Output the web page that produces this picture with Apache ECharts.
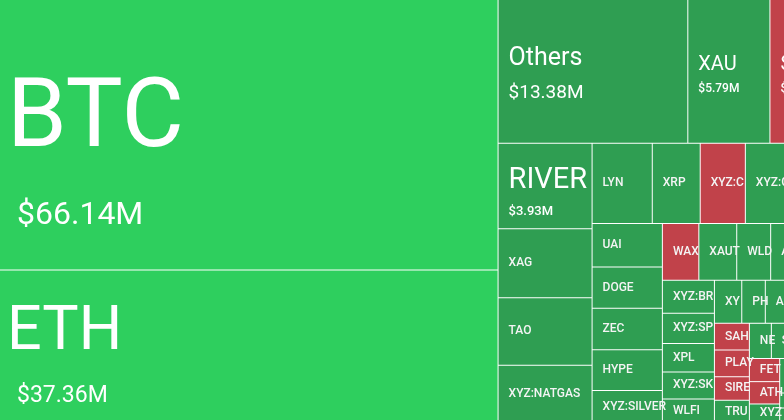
<!DOCTYPE html>
<html>
<head>
<meta charset="utf-8">
<style>
html,body{margin:0;padding:0;background:#fff;overflow:hidden}
#main{width:784px;height:420px}
</style>
<script src="https://cdn.jsdelivr.net/npm/echarts@6/dist/echarts.min.js"></script>
</head>
<body>
<div id="main"></div>
<script>
// coins, biggest first, values in $M (labelled ones read, the rest from tile size)
var names = ['BTC','ETH','Others','XAU','SOL','RIVER','XAG','TAO','XYZ:NATGAS',
    'LYN','XRP','XYZ:CL','XYZ:GOLD','SUI','UAI','DOGE','ZEC','HYPE','XYZ:SILVER',
    'WAX','XAUT','WLD','AAVE','ADA','XYZ:BRENT','XYZ:SP500','XPL','XYZ:SKHX','WLFI',
    'XYZ:TSLA','PHA','ASTER','BNB','LINK','SAHARA','PLAY','SIREN','TRUMP',
    'NEAR','SKY','PAXG','ENA','FET','ATH','XYZ:NVDA','LTC','AVAX','BCH','ONDO','PEPE','TON'];
var values = [66.14,37.36,13.38,5.79,4.20,3.93,3.16,3.11,2.65,
    2.36,1.88,1.77,1.73,1.57,1.49,1.42,1.42,1.40,1.12,
    1.01,1.05,0.94,0.83,0.80,0.84,0.77,0.72,0.69,0.61,
    0.575,0.495,0.47,0.44,0.44,0.458,0.455,0.40,0.39,
    0.378,0.37,0.32,0.31,0.343,0.331,0.282,0.28,0.28,0.28,0.25,0.25,0.23];
var bright = ['BTC','ETH'];
var falling = ['SOL','XYZ:CL','WAX','SAHARA','PLAY','SIREN','FET','ATH'];

// name size, value size, value indent, left pad, top pad, name line, value line, value weight
var labelStyles = {
    BTC:[96,32,10,8,59,126,62,400],
    ETH:[61,23,10,8,10,106,20,400],
    Others:[25,19,0,10,43,32.5,36,400],
    XAU:[20,12,0,10,52,26,22.8,500],
    SOL:[20,12,0,10,52,26,22.8,500],
    RIVER:[29,13,0,10,18,37.7,24.7,500]
};

function tileColor(name){
    if(falling.indexOf(name) >= 0) return '#c1424a';
    if(bright.indexOf(name) >= 0) return '#2ecf5e';
    return '#2f9e52';
}

var data = names.map(function(n,i){
    var node = {name:n, value:values[i], itemStyle:{color:tileColor(n)}};
    var s = labelStyles[n];
    if(s){
        node.label = {
            formatter:'{a|'+n+'}\n{b|$'+values[i].toFixed(2)+'M}',
            padding:[s[4],0,0,s[3]],
            rich:{
                a:{fontSize:s[0],lineHeight:s[5],color:'#fff',fontFamily:'Roboto',fontWeight:400},
                b:{fontSize:s[1],lineHeight:s[6],color:'#fff',fontFamily:'Roboto',fontWeight:s[7],padding:[0,0,0,s[2]]}
            }
        };
    }
    return node;
});

var myChart = echarts.init(document.getElementById('main'));
myChart.setOption({
    animation:false,
    series:[{
        type:'treemap',
        left:-1, top:-0.5, width:830, height:423,
        roam:false, nodeClick:false,
        sort:false,
        visibleMin:0,
        breadcrumb:{show:false},
        itemStyle:{gapWidth:1,borderWidth:0,borderColor:'#fff'},
        label:{
            show:true, position:'insideLeft', distance:0,
            padding:[2,-6,0,10], color:'#f4f4f4', fontSize:12, fontWeight:500,
            fontFamily:'Roboto', overflow:'truncate', ellipsis:''
        },
        data:data
    }]
});
</script>
</body>
</html>
